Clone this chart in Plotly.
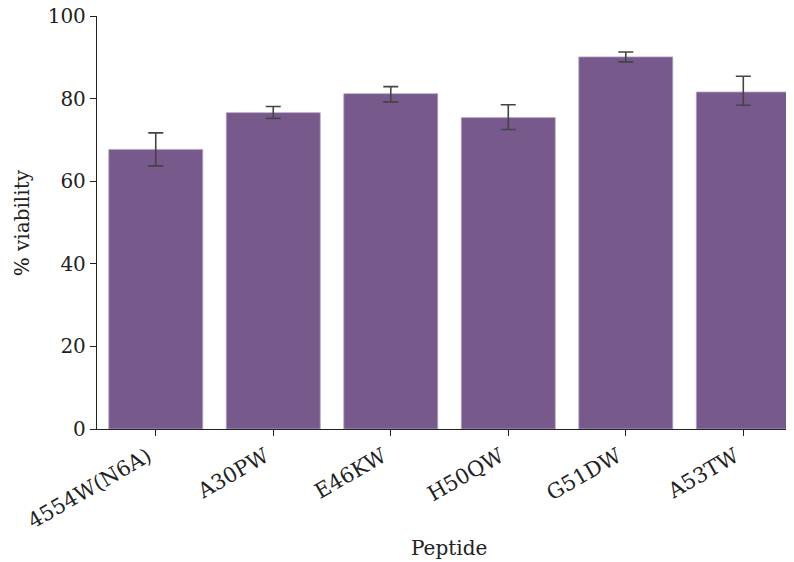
import plotly.graph_objects as go

categories = ["4554W(N6A)", "A30PW", "E46KW", "H50QW", "G51DW", "A53TW"]
viability = [67.7, 76.6, 81.2, 75.4, 90.1, 81.6]
err_upper = [71.7, 78.1, 82.9, 78.5, 91.3, 85.4]
err_lower = [63.7, 75.2, 79.2, 72.5, 88.9, 78.4]

plus = [u - v for u, v in zip(err_upper, viability)]
minus = [v - l for v, l in zip(viability, err_lower)]

font = "DejaVu Serif"
fig = go.Figure(go.Bar(
    x=list(range(len(categories))), y=viability, width=0.8,
    marker=dict(color="#775a8b", line=dict(color="#b8a6c4", width=0.8)),
    error_y=dict(type="data", symmetric=False, array=plus, arrayminus=minus,
                 color="#444444", thickness=1.6, width=7.5),
))
fig.update_layout(
    width=786, height=554, plot_bgcolor="white", paper_bgcolor="white",
    margin=dict(l=89, r=1, t=8, b=133), showlegend=False,
    font=dict(family=font, size=20, color="#222222"),
    annotations=[
        dict(text="Peptide", xref="paper", yref="paper", x=0.506, y=-0.288,
             xanchor="center", yanchor="middle", showarrow=False, font=dict(size=20)),
        dict(text="% viability", xref="paper", yref="paper", x=-0.108, y=0.5,
             xanchor="center", yanchor="middle", textangle=-90, showarrow=False,
             font=dict(size=20)),
    ],
)
fig.update_xaxes(
    range=[-0.5, 5.423], tickmode="array", tickvals=list(range(len(categories))),
    ticktext=categories, tickangle=-30, showline=True, linecolor="#222222", linewidth=1.3,
    ticks="outside", ticklen=6, tickwidth=1.3, tickcolor="#222222", showgrid=False,
    zeroline=False, automargin=False, ticklabeloverflow="allow",
    tickfont=dict(size=21), ticklabelshift=-8,
)
fig.update_yaxes(
    range=[0, 100], tickvals=[0, 20, 40, 60, 80, 100], showline=True, linecolor="#222222",
    linewidth=1.3, ticks="outside", ticklen=6, tickwidth=1.3, tickcolor="#222222",
    showgrid=False, zeroline=False, automargin=False, ticklabeloverflow="allow",
)
fig.write_html("out.html")
